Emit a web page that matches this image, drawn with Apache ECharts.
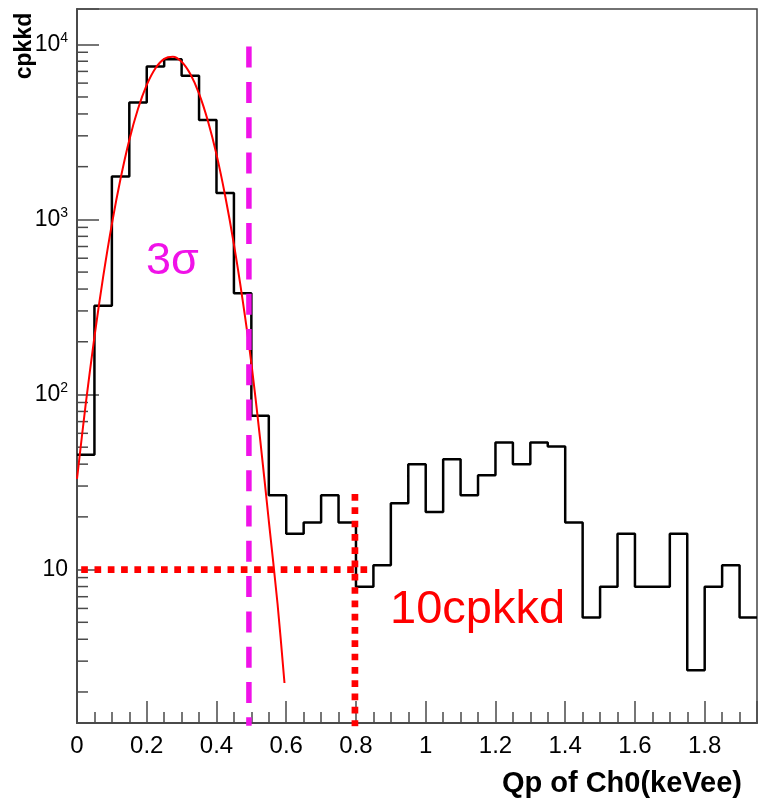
<!DOCTYPE html>
<html>
<head>
<meta charset="utf-8">
<script src="https://cdn.jsdelivr.net/npm/echarts@6/dist/echarts.min.js"></script>
<style>
html,body{margin:0;padding:0;background:#fff;}
#chart{width:763px;height:800px;}
</style>
</head>
<body>
<div id="chart"></div>
<script>
// ---- data ----
const binLeft = [0,0.05,0.1,0.15,0.2,0.25,0.3,0.35,0.4,0.45,0.5,0.55,0.6,0.65,0.7,0.75,0.8,0.85,0.9,0.95,
                 1.0,1.05,1.1,1.15,1.2,1.25,1.3,1.35,1.4,1.45,1.5,1.55,1.6,1.65,1.7,1.75,1.8,1.85,1.9];
const binRightEdge = 1.95;
const counts = [45.3,321,1758,4645,7462,8223,6603,3700,1413,378,75.5,26.6,16.0,18.6,26.6,18.6,7.98,10.6,23.9,39.9,
                21.3,42.6,26.6,34.6,53.2,39.9,53.2,50.5,18.6,5.32,7.98,16.0,7.98,7.98,16.0,2.66,7.98,10.6,5.32];
const fitX = [0,0.025,0.05,0.075,0.1,0.125,0.15,0.175,0.2,0.225,0.25,0.275,0.3,0.325,0.35,0.375,0.4,0.425,0.45,0.475,0.5,0.525,0.55,0.575,0.595];
const fitY = [33,88,213,469,940,1710,2840,4280,5860,7300,8260,8490,7950,6760,5230,3670,2350,1360,720,346,151,56,19,6.4,2.25];
const sigmaCutX = 0.493;          // 3σ line
const sigmaCutTop = 9700;
const thresholdY = 10;            // 10 cpkkd line
const thresholdXStart = 0.012, thresholdXEnd = 0.842;
const thresholdX = 0.797;
const thresholdXTop = 27;
const xTickLabels = [0,0.2,0.4,0.6,0.8,1,1.2,1.4,1.6,1.8];
const yTickLabels = [10,100,1000,10000];
const yMinorTicks = [2,3,4,5,6,7,8,9,20,30,40,50,60,70,80,90,200,300,400,500,600,700,800,900,2000,3000,4000,5000,6000,7000,8000,9000];
const xMin = 0, xMax = 1.95, yMin = 1.33, yMax = 15900;

const axisColor = '#4a4a4a';
const labelFont = '"Liberation Sans",Arial,sans-serif';

const histData = binLeft.map((x,i)=>[x, counts[i]]).concat([[binRightEdge, counts[counts.length-1]]]);
const fitData = fitX.map((x,i)=>[x, fitY[i]]);

const chart = echarts.init(document.getElementById('chart'), null, {renderer:'canvas'});
const option = {
  animation:false,
  backgroundColor:'#fff',
  grid:{left:77,right:6,top:9,bottom:77,show:true,borderColor:'#444',borderWidth:1.5,containLabel:false},
  xAxis:[{
    type:'value',min:xMin,max:xMax,interval:0.2,
    axisLine:{show:true,lineStyle:{color:axisColor,width:2}},
    axisTick:{show:true,inside:true,length:22,lineStyle:{color:axisColor,width:1.5}},
    splitLine:{show:false},
    axisLabel:{margin:11,color:'#000',fontSize:24,fontFamily:labelFont,
      formatter:function(v){
        const hit = xTickLabels.find(t=>Math.abs(t-v)<1e-6);
        return hit===undefined ? '' : String(hit);
      }}
  },{
    type:'value',min:xMin,max:xMax,interval:0.05,position:'bottom',
    axisLine:{show:false},
    axisTick:{show:true,inside:true,length:11,lineStyle:{color:axisColor,width:1.5}},
    axisLabel:{show:false},splitLine:{show:false}
  }],
  yAxis:[{
    type:'log',logBase:10,min:yMin,max:yMax,
    axisLine:{show:true,lineStyle:{color:axisColor,width:2}},
    axisTick:{show:true,inside:true,length:22,lineStyle:{color:axisColor,width:1.5}},
    splitLine:{show:false},minorTick:{show:false},
    axisLabel:{margin:9,color:'#000',fontSize:22,fontFamily:labelFont,
      formatter:function(v){
        const e = Math.log10(v);
        const r = Math.round(e);
        if (Math.abs(e-r)>1e-6) return '';
        const hit = yTickLabels.find(t=>Math.abs(Math.log10(t)-r)<1e-6);
        if (hit===undefined) return '';
        if (r===1) return '{base|10}';
        return '{base|10}{sup|'+r+'}';
      },
      rich:{
        base:{fontSize:23,fontFamily:labelFont,color:'#000',lineHeight:26},
        sup:{fontSize:14,fontFamily:labelFont,color:'#000',verticalAlign:'top',lineHeight:26,padding:[0,0,10,0]}
      }}
  }],
  series:[
    {
      name:'minor y ticks',type:'custom',xAxisIndex:0,yAxisIndex:0,silent:true,z:3,
      data:yMinorTicks.map(v=>[xMin,v]),
      renderItem:function(params,api){
        const p = api.coord([api.value(0), api.value(1)]);
        return {type:'line',shape:{x1:p[0],y1:p[1],x2:p[0]+11,y2:p[1]},
                style:{stroke:axisColor,lineWidth:1.5}};
      }
    },
    {
      name:'histogram',type:'line',step:'end',data:histData,symbol:'none',z:4,
      lineStyle:{color:'#000',width:2.5},silent:true
    },
    {
      name:'fit',type:'line',data:fitData,symbol:'none',smooth:0.3,z:5,
      lineStyle:{color:'#ff0000',width:2},silent:true
    },
    {
      name:'3sigma',type:'line',data:[[sigmaCutX,sigmaCutTop],[sigmaCutX,1]],symbol:'none',z:6,
      lineStyle:{color:'#f012e8',width:5.5,type:[21,14.3],cap:'butt'},silent:true
    },
    {
      name:'10cpkkd h',type:'line',data:[[thresholdXStart,thresholdY],[thresholdXEnd,thresholdY]],symbol:'none',z:7,
      lineStyle:{color:'#ff0000',width:6.7,type:[6.7,6.6],cap:'butt'},silent:true
    },
    {
      name:'10cpkkd v',type:'line',data:[[thresholdX,thresholdXTop],[thresholdX,1]],symbol:'none',z:7,
      lineStyle:{color:'#ff0000',width:6.7,type:[6.7,6.6],cap:'butt'},silent:true
    }
  ],
  graphic:[
    {type:'text',x:25,y:46,rotation:Math.PI/2,silent:true,
     style:{text:'cpkkd',fill:'#000',font:'bold 23px "Liberation Sans",Arial,sans-serif',align:'center',verticalAlign:'middle'}},
    {type:'text',x:742,y:784,silent:true,
     style:{text:'Qp of Ch0(keVee)',fill:'#000',font:'bold 29px "Liberation Sans",Arial,sans-serif',align:'right',verticalAlign:'middle'}},
    {type:'text',x:146,y:262,silent:true,
     style:{text:'3σ',fill:'#f012e8',font:'45px "Liberation Sans",Arial,sans-serif',align:'left',verticalAlign:'middle'}},
    {type:'text',x:390,y:610,silent:true,
     style:{text:'10cpkkd',fill:'#ff0000',font:'47px "Liberation Sans",Arial,sans-serif',align:'left',verticalAlign:'middle'}}
  ]
};
chart.setOption(option);
</script>
</body>
</html>
